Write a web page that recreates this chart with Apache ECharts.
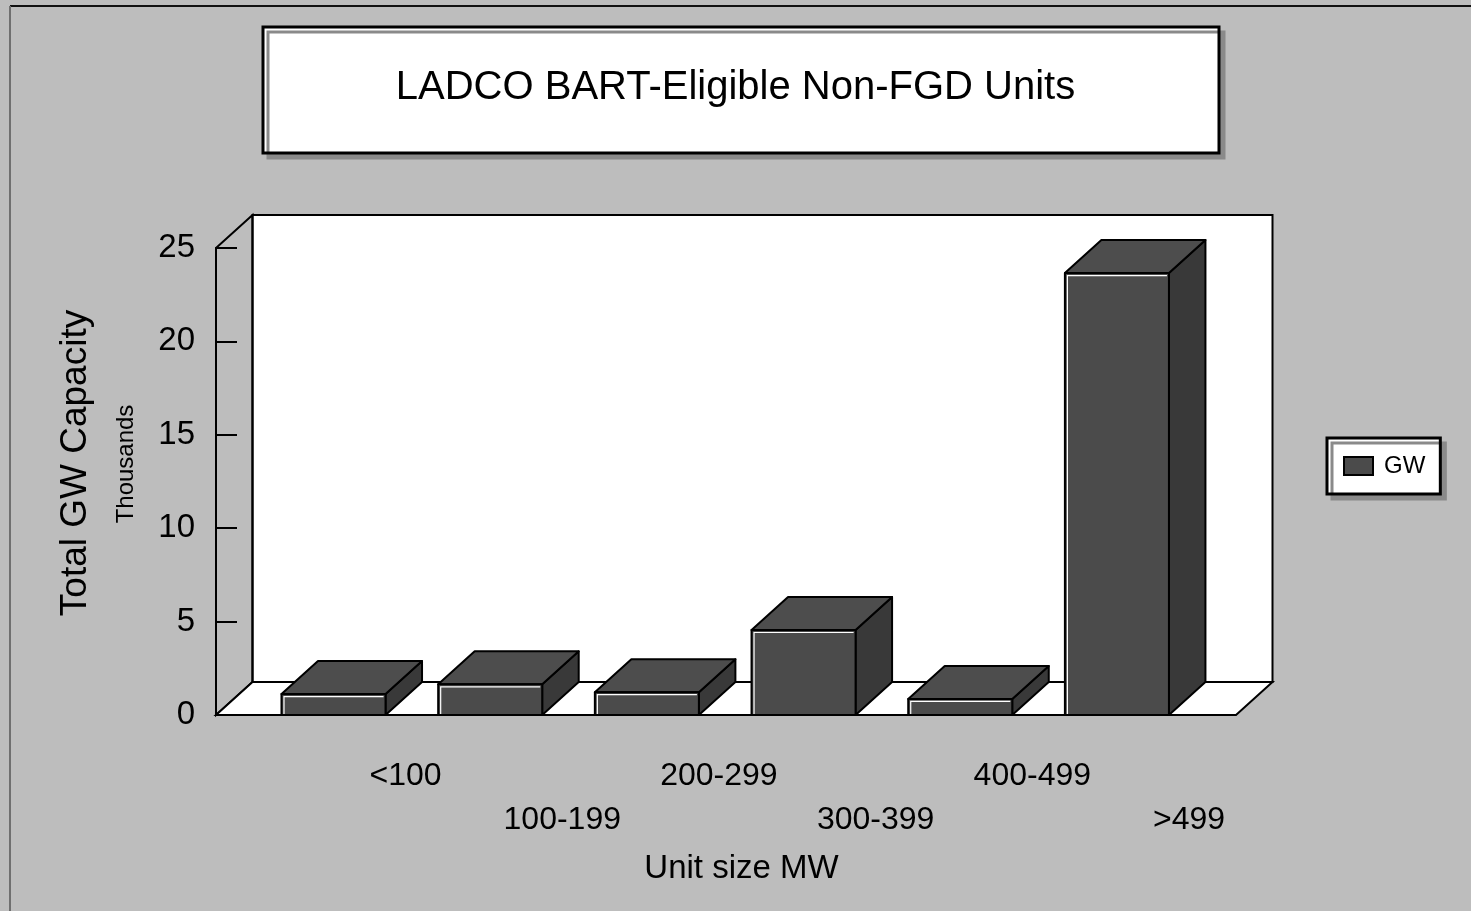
<!DOCTYPE html>
<html>
<head>
<meta charset="utf-8">
<script src="https://cdn.jsdelivr.net/npm/echarts@6/dist/echarts.min.js"></script>
<style>
html,body{margin:0;padding:0;background:#bdbdbd;}
#chart{width:1471px;height:911px;}
</style>
</head>
<body>
<div id="chart"></div>
<script>
// ---- data ----
const categories = ['<100', '100-199', '200-299', '300-399', '400-499', '>499'];
const gwValues = [1.12, 1.64, 1.22, 4.55, 0.86, 23.66];
const yTicks = [0, 5, 10, 15, 20, 25];
const seriesName = 'GW';
const titleText = 'LADCO BART-Eligible Non-FGD Units';
const yTitle = 'Total GW Capacity';
const yUnit = 'Thousands';
const xTitle = 'Unit size MW';

// ---- style constants ----
const FONT = 'Liberation Sans, Arial, sans-serif';
const BG = '#bdbdbd';
const FRONT = '#4b4b4b';
const SIDE = '#393939';
const TOP = '#4d4d4d';
const DX = 36.5, DY = -33;   // oblique depth (px)
const BAR_W = 0.664;         // bar width in category units
const LABEL_SHIFT = 0.46;    // label offset in category units

const chart = echarts.init(document.getElementById('chart'));

const wallSeries = {
  type: 'custom',
  silent: true,
  z: 1,
  data: [[0]],
  renderItem: function (params, api) {
    const cs = params.coordSys;
    const x = cs.x, y = cs.y, w = cs.width, h = cs.height;
    const stroke = { stroke: '#000', lineWidth: 2 };
    return {
      type: 'group',
      children: [
        { type: 'rect', shape: { x: x + DX, y: y + DY, width: w, height: h },
          style: Object.assign({ fill: '#fff' }, stroke) },
        { type: 'polygon', shape: { points: [[x, y], [x + DX, y + DY], [x + DX, y + h + DY], [x, y + h]] },
          style: Object.assign({ fill: 'transparent' }, stroke) },
        { type: 'polygon', shape: { points: [[x, y + h], [x + w, y + h], [x + w + DX, y + h + DY], [x + DX, y + h + DY]] },
          style: Object.assign({ fill: '#fff' }, stroke) }
      ]
    };
  }
};

const barSeries = {
  type: 'custom',
  name: seriesName,
  z: 3,
  itemStyle: { color: FRONT },
  data: gwValues.map((v, i) => [i, v]),
  renderItem: function (params, api) {
    const i = api.value(0), v = api.value(1);
    const top = api.coord([i, v]);
    const base = api.coord([i, 0]);
    const w = api.size([BAR_W, 0])[0];
    const x0 = top[0] - w / 2, x1 = top[0] + w / 2, yt = top[1], yb = base[1];
    const st = { stroke: '#000', lineWidth: 2, lineJoin: 'round' };
    return {
      type: 'group',
      children: [
        { type: 'polygon', shape: { points: [[x1, yt], [x1 + DX, yt + DY], [x1 + DX, yb + DY], [x1, yb]] },
          style: Object.assign({ fill: SIDE }, st) },
        { type: 'polygon', shape: { points: [[x0, yt], [x0 + DX, yt + DY], [x1 + DX, yt + DY], [x1, yt]] },
          style: Object.assign({ fill: TOP }, st) },
        { type: 'rect', shape: { x: x0, y: yt, width: x1 - x0, height: yb - yt },
          style: Object.assign({ fill: FRONT }, st) },
        { type: 'polyline', shape: { points: [[x0 + 2.5, yb - 1], [x0 + 2.5, yt + 2.5], [x1 - 2, yt + 2.5]] },
          style: { stroke: '#fff', lineWidth: 1.2, fill: null } }
      ]
    };
  }
};

const option = {
  backgroundColor: BG,
  animation: false,
  textStyle: { fontFamily: FONT },
  title: {
    text: titleText,
    left: 'center',
    top: 68,
    padding: [0, 0, 0, 11],
    textStyle: { fontSize: 40, fontWeight: 'normal', color: '#000', fontFamily: FONT }
  },
  legend: {
    data: [{ name: seriesName, icon: 'rect' }],
    left: 1327,
    top: 438,
    orient: 'vertical',
    padding: [16, 15, 16, 16],
    itemWidth: 29,
    itemHeight: 18,
    backgroundColor: '#fff',
    borderColor: '#000',
    borderWidth: 3,
    shadowColor: '#8a8a8a',
    shadowBlur: 0,
    shadowOffsetX: 5,
    shadowOffsetY: 5,
    itemStyle: { borderColor: '#000', borderWidth: 2, color: FRONT },
    textStyle: { fontSize: 24, color: '#000', fontFamily: FONT, padding: [0, 0, 0, 6], lineHeight: 22 }
  },
  grid: { left: 216, right: 235, top: 248, bottom: 196, containLabel: false },
  xAxis: {
    type: 'value',
    min: -0.75,
    max: 5.76,
    splitLine: { show: false },
    axisLine: { show: false, onZero: false },
    axisTick: { show: false },
    name: xTitle,
    nameLocation: 'middle',
    nameGap: 137,
    nameTextStyle: { fontSize: 33, color: '#000', fontFamily: FONT, padding: [0, 0, 0, 31], verticalAlign: 'top' },
    axisLabel: {
      customValues: categories.map((c, i) => i + LABEL_SHIFT),
      margin: 45,
      verticalAlign: 'top',
      color: '#000',
      fontSize: 32,
      fontFamily: FONT,
      formatter: function (value) {
        const idx = Math.round(value - LABEL_SHIFT);
        return idx % 2 === 0 ? '{a|' + categories[idx] + '}' : '{b|' + categories[idx] + '}';
      },
      rich: {
        a: { fontSize: 32, color: '#000', fontFamily: FONT },
        b: { fontSize: 32, color: '#000', fontFamily: FONT, padding: [44, 0, 0, 0] }
      }
    }
  },
  yAxis: {
    type: 'value',
    min: 0,
    max: 25,
    interval: 5,
    z: 10,
    splitLine: { show: false },
    axisLine: { show: true, onZero: false, lineStyle: { color: '#000', width: 2 } },
    axisTick: { show: true, inside: true, length: 21, lineStyle: { color: '#000', width: 2 } },
    axisLabel: {
      customValues: yTicks,
      margin: 21,
      color: '#000',
      fontSize: 33,
      fontFamily: FONT
    }
  },
  graphic: [
    { type: 'polyline', z: -10, shape: { points: [[10, 6], [1471, 6]] }, style: { stroke: '#111', lineWidth: 2 } },
    { type: 'polyline', z: -10, shape: { points: [[10, 6], [10, 911]] }, style: { stroke: '#6f6f6f', lineWidth: 2 } },
    { type: 'rect', z: -5, shape: { x: 263, y: 27, width: 956, height: 126 },
      style: { fill: '#fff', stroke: '#000', lineWidth: 3, shadowColor: '#8a8a8a', shadowBlur: 0, shadowOffsetX: 5, shadowOffsetY: 5 } },
    { type: 'text', x: 76, y: 463, rotation: Math.PI / 2,
      style: { text: yTitle, fontSize: 37, fontFamily: FONT, fill: '#000', align: 'center', verticalAlign: 'middle' } },
    { type: 'text', x: 126, y: 464, rotation: Math.PI / 2,
      style: { text: yUnit, fontSize: 24, fontFamily: FONT, fill: '#000', align: 'center', verticalAlign: 'middle' } }
  ],
  series: [wallSeries, barSeries]
};

chart.setOption(option);
</script>
</body>
</html>
